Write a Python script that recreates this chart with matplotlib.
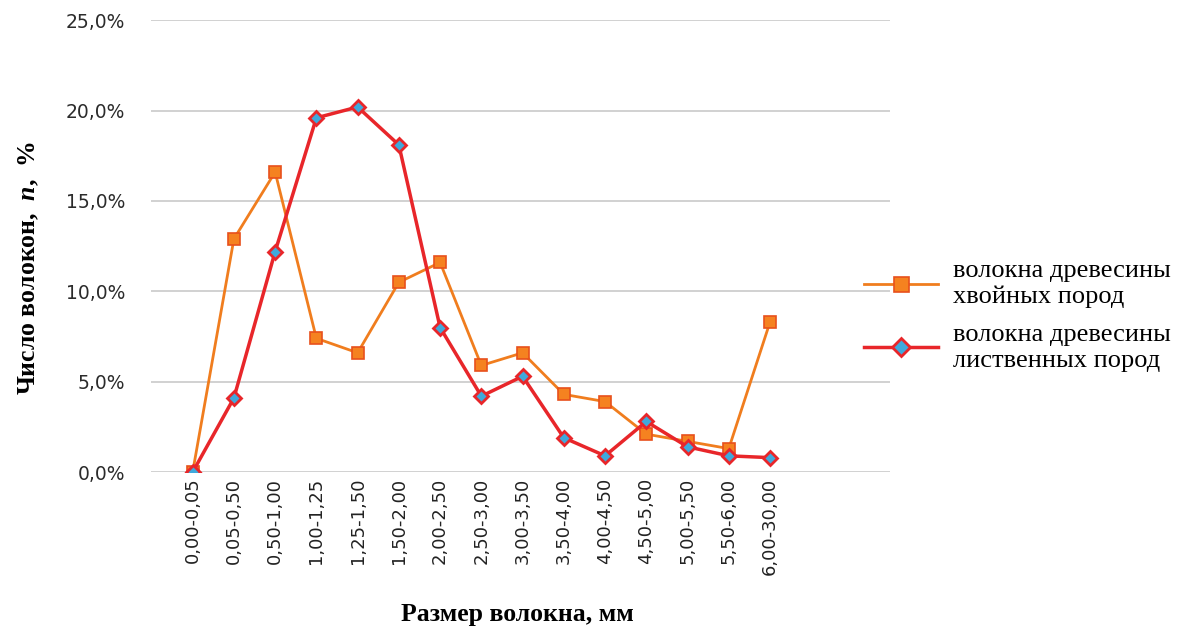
import matplotlib.pyplot as plt

# интервалы длины волокна, мм
razmer = ["0,00-0,05", "0,05-0,50", "0,50-1,00", "1,00-1,25", "1,25-1,50",
          "1,50-2,00", "2,00-2,50", "2,50-3,00", "3,00-3,50", "3,50-4,00",
          "4,00-4,50", "4,50-5,00", "5,00-5,50", "5,50-6,00", "6,00-30,00"]

# доля волокон, %
hvoynye = [0.0, 12.9, 16.6, 7.4, 6.6, 10.5, 11.6, 5.9, 6.6, 4.3, 3.9, 2.1, 1.7, 1.3, 8.3]
listvennye = [0.0, 4.1, 12.2, 19.6, 20.2, 18.1, 8.0, 4.2, 5.3, 1.9, 0.9, 2.8, 1.4, 0.9, 0.8]

y_ticks = [0, 5, 10, 15, 20, 25]

serif = "Liberation Serif"
plt.rcParams["mathtext.fontset"] = "custom"
plt.rcParams["mathtext.bfit"] = "Liberation Serif:italic:bold"
plt.rcParams["mathtext.rm"] = "Liberation Serif:bold"

fig = plt.figure(figsize=(11.83, 6.32), dpi=100)
ax = fig.add_axes([0.128, 0.253, 0.624, 0.715])

x = list(range(len(razmer)))
ax.plot(x, hvoynye, color="#f07d1e", lw=2, marker="s", ms=9,
        mfc="#f58220", mec="#e8501c", mew=1.2,
        label="волокна древесины\nхвойных пород", zorder=3)
ax.plot(x, listvennye, color="#e8262a", lw=2.5, marker="D", ms=7.5,
        mfc="#3fa9dc", mec="#e8262a", mew=2,
        label="волокна древесины\nлиственных пород", zorder=4)

ax.set_xlim(-1, 16.9)
ax.set_ylim(0, 25)
ax.set_yticks(y_ticks)
ax.set_yticklabels([f"{v:.1f}%".replace(".", ",") for v in y_ticks],
                   fontfamily="DejaVu Sans", fontsize=13.5, color="#2b2b2b")
ax.set_xticks(x)
ax.set_xticklabels(razmer, rotation=90, fontfamily="DejaVu Sans", fontsize=13, color="#222222")
ax.tick_params(length=0)
ax.tick_params(axis="x", pad=4)
ax.tick_params(axis="y", pad=19)

ax.grid(axis="y", color="#c9c9c9", lw=1.2)
ax.set_axisbelow(True)
for s in ax.spines.values():
    s.set_visible(False)

fig.text(0.437, 0.027, "Размер волокна, мм", ha="center", va="center",
         fontfamily=serif, fontweight="bold", fontsize=18.5)
fig.text(0.024, 0.576, "Число волокон,  $\\mathbfit{n}$,  %", rotation=90, ha="center",
         va="center", fontfamily=serif, fontweight="bold", fontsize=18.5)

fig.legend(loc="center left", bbox_to_anchor=(0.71, 0.50), frameon=False,
           prop={"family": serif, "size": 19}, handlelength=2.8, labelspacing=0.6,
           handletextpad=0.6, markerscale=1.2)

fig.savefig("out.png")
